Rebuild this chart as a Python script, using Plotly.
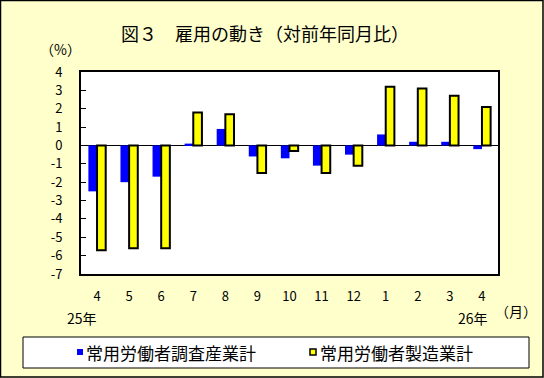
import plotly.graph_objects as go

months = ["4", "5", "6", "7", "8", "9", "10", "11", "12", "1", "2", "3", "4"]
all_industries = [-2.5, -2.0, -1.7, 0.1, 0.9, -0.6, -0.7, -1.1, -0.5, 0.6, 0.2, 0.2, -0.2]
manufacturing = [-5.7, -5.6, -5.6, 1.8, 1.7, -1.5, -0.3, -1.5, -1.1, 3.2, 3.1, 2.7, 2.1]
series_names = ["常用労働者調査産業計", "常用労働者製造業計"]
y_ticks = [4, 3, 2, 1, 0, -1, -2, -3, -4, -5, -6, -7]
y_ticktext = [str(v) for v in y_ticks]

W, H = 544, 378
L, R, T, B = 81, 498, 72, 274
BG = "#FFFFCC"
FONT = "Noto Sans CJK JP"

def px(x):
    return (x - L) / (R - L)

def py(y):
    return (B - y) / (B - T)

xs = list(range(len(months)))

fig = go.Figure()
fig.add_trace(go.Bar(x=xs, y=all_industries, name=series_names[0],
                     marker=dict(color="#0000FF", line=dict(width=0)), showlegend=False))
fig.add_trace(go.Bar(x=xs, y=manufacturing, name=series_names[1],
                     marker=dict(color="#FFFF00", line=dict(color="black", width=2)), showlegend=False))

fig.update_layout(
    width=W, height=H,
    margin=dict(l=L, r=W - R, t=T, b=H - B, pad=0),
    paper_bgcolor=BG, plot_bgcolor="white",
    barmode="group", bargap=0.46, bargroupgap=0,
    font=dict(family=FONT, size=13, color="black"),
    showlegend=False,
)
fig.update_xaxes(range=[-0.5, len(months) - 0.5], tickvals=xs, ticktext=months,
                 ticks="", showline=True, mirror=True, linecolor="black", linewidth=2,
                 showgrid=False, zeroline=False, ticklabelstandoff=9,
                 tickfont=dict(size=13))
fig.update_yaxes(range=[-7, 4], tickvals=y_ticks, ticktext=y_ticktext,
                 ticks="inside", ticklen=5, tickwidth=1, tickcolor="black",
                 showline=True, mirror=True, linecolor="black", linewidth=2,
                 showgrid=False, zeroline=True, zerolinecolor="black", zerolinewidth=1,
                 ticklabelstandoff=14, tickfont=dict(size=13))

shapes = []
shapes.append(dict(type="rect", xref="paper", yref="paper",
                   x0=px(0.5), x1=px(543), y0=py(0.5), y1=py(377),
                   line=dict(color="black", width=1.5), fillcolor="rgba(0,0,0,0)", layer="below"))
shapes.append(dict(type="rect", xref="paper", yref="paper",
                   x0=px(23), x1=px(529), y0=py(337), y1=py(368),
                   line=dict(color="black", width=1), fillcolor="white", layer="below"))
shapes.append(dict(type="rect", xref="paper", yref="paper",
                   x0=px(77), x1=px(83), y0=py(349), y1=py(355),
                   line=dict(width=0), fillcolor="#0000FF"))
shapes.append(dict(type="rect", xref="paper", yref="paper",
                   x0=px(310), x1=px(316), y0=py(349), y1=py(355),
                   line=dict(color="black", width=1.5), fillcolor="#FFFF00"))

ann = []
def text(x, y, s, size, xanchor="center"):
    ann.append(dict(x=px(x), y=py(y), xref="paper", yref="paper", text=s, showarrow=False,
                    xanchor=xanchor, yanchor="middle", font=dict(family=FONT, size=size, color="black")))

text(265, 33, "図３　雇用の動き（対前年同月比）", 18)
text(60, 49, "（%）", 14)
text(82, 318, "25年", 14)
text(473, 318, "26年", 14)
text(516, 311, "（月）", 14)
text(84, 352, series_names[0], 17, "left")
text(318, 352, series_names[1], 17, "left")

fig.update_layout(shapes=shapes, annotations=ann)
fig.write_html("out.html", config={"displayModeBar": False},
               post_script="document.body.style.margin='0';document.body.style.overflow='hidden';")
